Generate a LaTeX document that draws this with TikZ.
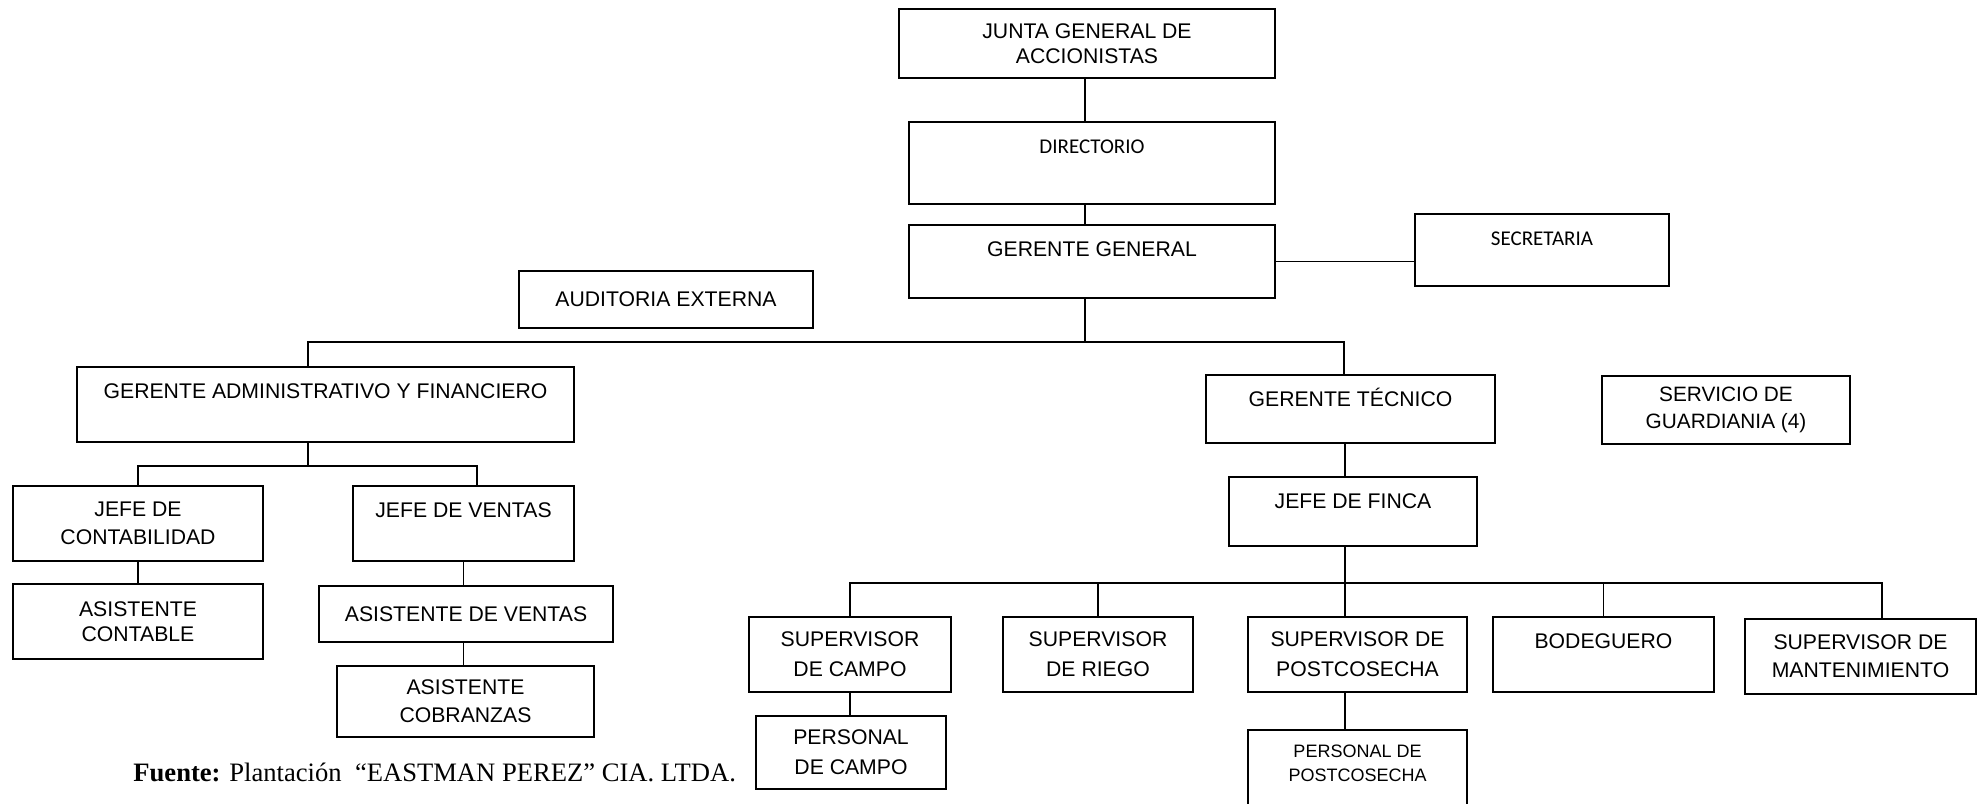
\documentclass[tikz,border=0pt]{standalone}
\usepackage{fontspec}
\setmainfont{Liberation Serif}
\newfontfamily\arialfont{Liberation Sans}
\newfontfamily\calibrifont{Carlito}

\tikzset{
	BoxStyle/.style={draw, line width=1pt, inner sep=0pt, align=center,
		font=\arialfont\fontsize{10.6}{14}\selectfont},
	TopText/.style={text height=8pt, text depth=#1},
	SmallText/.style={font=\calibrifont\fontsize{10.5}{13}\selectfont},
	LinkStyle/.style={line width=0.9pt}
}

\begin{document}
\begin{tikzpicture}[x=0.5pt,y=-0.5pt]
		\clip (0,0) rectangle (1986,803);
		% direccion
		\node[BoxStyle, font=\arialfont\fontsize{10.6}{12.7}\selectfont, minimum width=188pt, minimum height=34.5pt] (junta) at (1087,43.5) {JUNTA GENERAL DE\\ACCIONISTAS};
		\node[BoxStyle, SmallText, TopText=18pt, minimum width=183pt, minimum height=41pt] (dir) at (1092,163) {DIRECTORIO};
		\node[BoxStyle, TopText=13.5pt, minimum width=183pt, minimum height=36.5pt] (gg) at (1092,261.5) {GERENTE GENERAL};
		\node[BoxStyle, SmallText, TopText=13pt, minimum width=127pt, minimum height=36pt] (sec) at (1542,250) {SECRETARIA};
		\node[BoxStyle, minimum width=147pt, minimum height=28.5pt] (aud) at (666,299.5) {AUDITORIA EXTERNA};
		
		% gerencias
		\node[BoxStyle, TopText=14.5pt, minimum width=248.5pt, minimum height=37.5pt] (gaf) at (325.5,404.5) {GERENTE ADMINISTRATIVO Y FINANCIERO};
		\node[BoxStyle, TopText=11pt, minimum width=144.5pt, minimum height=34pt] (gt) at (1350.5,409) {GERENTE TÉCNICO};
		\node[BoxStyle, font=\arialfont\fontsize{10.4}{13.5}\selectfont, minimum width=124pt, minimum height=34pt] (serv) at (1726,410) {SERVICIO DE\\GUARDIANIA (4)};
		
		% area administrativa
		\node[BoxStyle, minimum width=125pt, minimum height=37.5pt] (jc) at (138,523.5) {JEFE DE\\CONTABILIDAD};
		\node[BoxStyle, TopText=14.5pt, minimum width=110.5pt, minimum height=37.5pt] (jv) at (463.5,523.5) {JEFE DE VENTAS};
		\node[BoxStyle, font=\arialfont\fontsize{10.6}{12.5}\selectfont, minimum width=125pt, minimum height=37.5pt] (ac) at (138,621.5) {ASISTENTE\\CONTABLE};
		\node[BoxStyle, minimum width=147pt, minimum height=28pt] (av) at (466,614) {ASISTENTE DE VENTAS};
		\node[BoxStyle, minimum width=128.5pt, minimum height=35.5pt] (acob) at (465.5,701.5) {ASISTENTE\\COBRANZAS};
		
		% area tecnica
		\node[BoxStyle, TopText=11.5pt, minimum width=124pt, minimum height=34.5pt] (jf) at (1353,511.5) {JEFE DE FINCA};
		\node[BoxStyle, font=\arialfont\fontsize{10.6}{15}\selectfont, minimum width=101pt, minimum height=37.5pt] (sc) at (850,654.5) {SUPERVISOR\\DE CAMPO};
		\node[BoxStyle, font=\arialfont\fontsize{10.6}{15}\selectfont, minimum width=95pt, minimum height=37.5pt] (sr) at (1098,654.5) {SUPERVISOR\\DE RIEGO};
		\node[BoxStyle, font=\arialfont\fontsize{10.6}{15}\selectfont, minimum width=109.5pt, minimum height=37.5pt] (sp) at (1357.5,654.5) {SUPERVISOR DE\\POSTCOSECHA};
		\node[BoxStyle, TopText=14.5pt, minimum width=110.5pt, minimum height=37.5pt] (bod) at (1603.5,654.5) {BODEGUERO};
		\node[BoxStyle, minimum width=115.5pt, minimum height=37.5pt] (sm) at (1860.5,656.5) {SUPERVISOR DE\\MANTENIMIENTO};
		\node[BoxStyle, font=\arialfont\fontsize{10.6}{15}\selectfont, minimum width=95pt, minimum height=36.5pt] (pc) at (851,752.5) {PERSONAL\\DE CAMPO};
		\node[BoxStyle, font=\arialfont\fontsize{9}{12}\selectfont, text depth=8pt, minimum width=109.5pt, minimum height=41pt] (pp) at (1357.5,771) {PERSONAL DE\\POSTCOSECHA};
		
		% lineas
		\coordinate (topbus) at (1085,342);
		\coordinate (leftbus) at (308,466);
		\coordinate (rightbus) at (1345,583);
		\draw[LinkStyle] (junta.south -| topbus) -- (dir.north -| topbus);
		\draw[LinkStyle] (dir.south -| topbus) -- (gg.north -| topbus);
		\draw[LinkStyle] (gg.south -| topbus) -- (topbus);
		\draw[LinkStyle] (gg.east) -- (gg.east -| sec.west);
		\draw[LinkStyle] ([xshift=-8.75pt]gaf.north) |- (topbus);
		\draw[LinkStyle] ([xshift=-3.25pt]gt.north) |- (topbus);
		
		\draw[LinkStyle] (gaf.south -| leftbus) -- (leftbus);
		\draw[LinkStyle] (jc.north) |- (leftbus);
		\draw[LinkStyle] ([xshift=6.75pt]jv.north) |- (leftbus);
		\draw[LinkStyle] (jc.south) -- (jc.south |- ac.north);
		\draw[LinkStyle] (jv.south) -- (jv.south |- av.north);
		\draw[LinkStyle] (av.south -| jv.south) -- (acob.north -| jv.south);
		
		\draw[LinkStyle] (gt.south -| rightbus) -- (jf.north -| rightbus);
		\draw[LinkStyle] (jf.south -| rightbus) -- (rightbus);
		\draw[LinkStyle] (sc.north) |- (rightbus);
		\draw[LinkStyle] ([xshift=10.75pt]sm.north) |- (rightbus);
		\foreach \n in {sr,bod}
			\draw[LinkStyle] (\n.north) |- (rightbus);
		\draw[LinkStyle] (sp.north -| rightbus) -- (rightbus);
		\draw[LinkStyle] (sc.south) -- (sc.south |- pc.north);
		\draw[LinkStyle] (sp.south -| rightbus) -- (pp.north -| rightbus);
		
		\node[anchor=base west, inner sep=0pt, font=\fontsize{13.3}{16}\selectfont] (fuente) at (133,781) {\textbf{Fuente:} Plantación\ \ “EASTMAN PEREZ” CIA. LTDA.};
\end{tikzpicture}
\end{document}
